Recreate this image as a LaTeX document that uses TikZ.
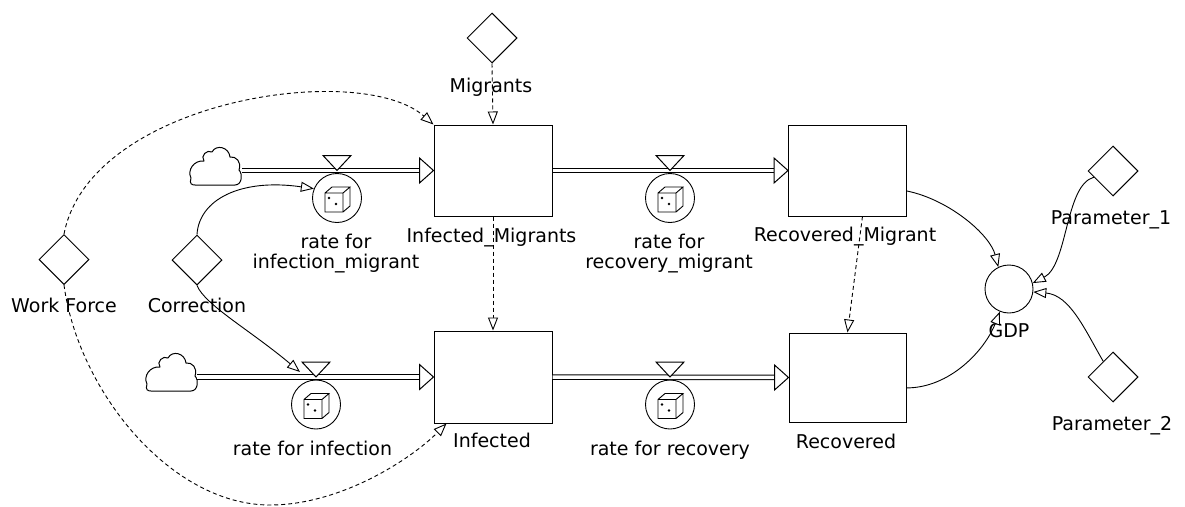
\documentclass[tikz,border=0pt]{standalone}
\usepackage{fontspec}
\setmainfont{DejaVu Sans}
\usetikzlibrary{arrows.meta,shapes.geometric,calc}
\begin{document}
\begin{tikzpicture}[x=1pt,y=-1pt,
  lbl/.style={font=\fontsize{19}{20}\selectfont, inner sep=0pt, anchor=base, align=center},
  stock/.style={draw, line width=1pt, minimum width=118pt, minimum height=91pt, inner sep=0pt},
  aux/.style={draw, diamond, aspect=1, minimum size=50pt, inner sep=0pt, line width=1pt},
  rate/.style={draw, circle, minimum size=49pt, inner sep=0pt, line width=0.9pt},
  pipe/.style={double, double distance=3.5pt, line width=1pt},
  link/.style={line width=0.9pt, -{Triangle[length=13pt,width=10pt,fill=white]}},
  dlink/.style={link, dash pattern=on 4pt off 3pt},
  valveshape/.style={draw, fill=white, line width=1pt},
  cloudpic/.pic={\draw[line width=1pt, line join=round]
     (-20,19) -- (20,19) .. controls (27,19) and (28,8) .. (24,4)
     .. controls (27,-4) and (21,-10) .. (15,-9)
     .. controls (14,-19) and (1,-22) .. (-3,-14)
     .. controls (-8,-17) and (-15,-10) .. (-11,-5)
     .. controls (-21,-6) and (-28,4) .. (-24,12)
     .. controls (-26,18) and (-23,19) .. (-20,19) -- cycle;},
  dicepic/.pic={\draw[line width=0.9pt, line join=miter]
     (-12,-5) rectangle (6,14)
     (-12,-5) -- (-5,-11) -- (13,-11) -- (6,-5)
     (13,-11) -- (13,8) -- (6,14);
     \fill (-8,0) circle (1.4); \fill (-1,6) circle (1.4);}
]
\useasboundingbox (0,0) rectangle (1185,506);

% stocks
\node[stock] (IM) at (493,170.5) {};
\node[stock] (RM) at (847.5,170.5) {};
\node[stock, minimum height=92pt] (INF) at (493,377) {};
\node[stock, minimum width=117pt, minimum height=89pt] (REC) at (847.5,377.5) {};

% auxiliaries
\node[aux] (MIG) at (492,38) {};
\node[aux] (WF) at (64,259.5) {};
\node[aux] (COR) at (197,260) {};
\node[aux] (P1) at (1113,171) {};
\node[aux] (P2) at (1113,377) {};
\node[circle, draw, minimum size=48pt, inner sep=0pt, line width=0.9pt] (GDP) at (1009,289) {};

% clouds
\pic at (215,166) {cloudpic};
\pic at (171,372) {cloudpic};
\coordinate (c1e) at (242,170.5);
\coordinate (c2e) at (197,377);

% valves and rates
\coordinate (v1) at (337,170.5);
\coordinate (v2) at (670,170.5);
\coordinate (v3) at (316,377);
\coordinate (v4) at (670,377);
\node[rate] (rIM) at (337,198) {};
\node[rate] (rRM) at (670,198) {};
\node[rate] (rINF) at (316,404.5) {};
\node[rate] (rREC) at (670,404.5) {};
\pic at (rIM) {dicepic};
\pic at (rRM) {dicepic};
\pic at (rINF) {dicepic};
\pic at (rREC) {dicepic};

% pipes
\draw[pipe, shorten >=13pt] (c1e) -- (IM.west);
\draw[pipe, shorten >=13pt] (IM.east) -- (RM.west);
\draw[pipe, shorten >=13pt] (c2e) -- (INF.west);
\draw[pipe, shorten >=13pt] (INF.east) -- (REC.west);
\foreach \s in {IM,RM,INF,REC}{
  \draw[valveshape] ($(\s.west)+(-14,-12.5)$) -- (\s.west) -- ($(\s.west)+(-14,12.5)$) -- cycle;
}
\foreach \v in {v1,v2,v3,v4}{
  \draw[valveshape] ($(\v)+(-14,-15)$) -- (\v) -- ($(\v)+(14,-15)$) -- cycle;
}

% labels
\node[lbl] (lMIG) at (491,92) {Migrants};
\node[lbl] (lIM) at (491.5,242) {Infected\_Migrants};
\node[lbl] (lINF) at (492,447) {Infected};
\node[lbl] (lRM) at (845,241) {Recovered\_Migrant};
\node[lbl] (lREC) at (846,448) {Recovered};
\node[lbl] (lWF) at (64,312) {Work Force};
\node[lbl] (lCOR) at (197,312) {Correction};
\node[lbl] (lrIM) at (336,268) {rate for\\infection\_migrant};
\node[lbl] (lrRM) at (669,268) {rate for\\recovery\_migrant};
\node[lbl] (lrINF) at (312.5,455) {rate for infection};
\node[lbl] (lrREC) at (670,455) {rate for recovery};
\node[lbl] (lGDP) at (1009,337) {GDP};
\node[lbl] (lP1) at (1111,224) {Parameter\_1};
\node[lbl] (lP2) at (1112,430) {Parameter\_2};

% information links
\coordinate (wfb) at (270,505);
\coordinate (corTip) at (300,372);
\draw[dlink] (MIG.south) -- (IM.north);
\draw[dlink] (WF.north) .. controls (90,100) and (360,60) .. (IM.north west);
\draw[dlink] (WF.south) .. controls (78,390) and (170,505) .. (wfb) .. controls (340,505) and (410,460) .. (INF.225);
\draw[link] (COR.north) .. controls (199,200) and (240,178) .. (rIM.158);
\draw[link] (COR.south) .. controls (205,305) and (250,330) .. (corTip);
\draw[dlink] (IM.south) -- (INF.north);
\draw[dlink] (RM.-72) -- (REC.north);
\draw[link] (RM.-19) .. controls (950,200) and (990,235) .. (GDP.116);
\draw[link] (REC.-10) .. controls (950,388) and (985,350) .. (GDP.248);
\draw[link] (P1.198) .. controls (1065,185) and (1068,265) .. (GDP.14);
\draw[link] (P2.122) .. controls (1085,330) and (1070,295) .. (GDP.-7);
\end{tikzpicture}
\end{document}
